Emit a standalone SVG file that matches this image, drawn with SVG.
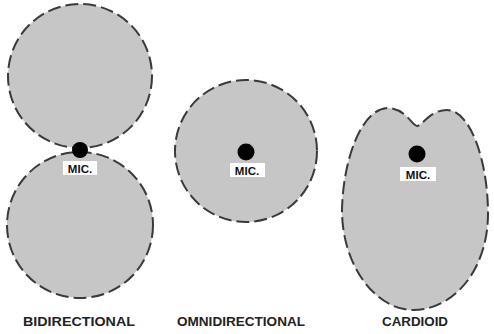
<svg xmlns="http://www.w3.org/2000/svg" width="494" height="334" viewBox="0 0 494 334">
<style>
.lobe{fill:#c6c6c6;stroke:#3a3a3a;stroke-width:2;stroke-dasharray:13 5}
.dot{fill:#000}
.tag{fill:#fff}
.mic{font-family:"Liberation Sans",Arial,sans-serif;font-weight:bold;font-size:11.5px;fill:#111;text-anchor:middle}
.cap{font-family:"Liberation Sans",Arial,sans-serif;font-weight:bold;font-size:13px;fill:#222;text-anchor:middle}
</style>
<rect width="494" height="334" fill="#fff"/>
<g id="bidirectional">
<circle class="lobe" cx="80" cy="76" r="72"/>
<circle class="lobe" cx="80" cy="225" r="73"/>
<circle class="dot" cx="80" cy="150" r="8"/>
<rect class="tag" x="63" y="161" width="34" height="14"/>
<text class="mic" x="80" y="173">MIC.</text>
<text class="cap" x="79" y="326" textLength="112" lengthAdjust="spacingAndGlyphs">BIDIRECTIONAL</text>
</g>
<g id="omnidirectional">
<circle class="lobe" cx="246" cy="151" r="71"/>
<circle class="dot" cx="246" cy="152" r="8.5"/>
<rect class="tag" x="230" y="163" width="35" height="14"/>
<text class="mic" x="247" y="175">MIC.</text>
<text class="cap" x="241" y="326" textLength="128" lengthAdjust="spacingAndGlyphs">OMNIDIRECTIONAL</text>
</g>
<g id="cardioid">
<path class="lobe" d="M417 126 C412 126 406 108 387 108 C361 110 343 160 342 210 C342 266 376 310 413 310 C455 310 488 268 488 214 C488 160 470 110 447 110 C430 110 422 126 417 126 Z"/>
<circle class="dot" cx="417" cy="154" r="8.5"/>
<rect class="tag" x="400" y="167" width="36" height="14"/>
<text class="mic" x="418" y="179">MIC.</text>
<text class="cap" x="415" y="326" textLength="66" lengthAdjust="spacingAndGlyphs">CARDIOID</text>
</g>
</svg>
